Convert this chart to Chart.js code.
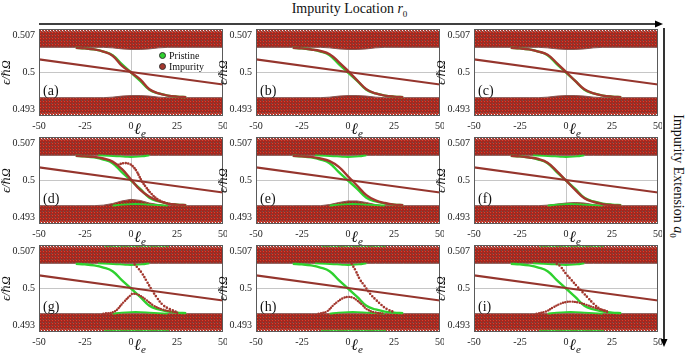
<!DOCTYPE html>
<html>
<head>
<meta charset="utf-8">
<script src="https://cdn.jsdelivr.net/npm/chart.js@4.4.1/dist/chart.umd.min.js"></script>
<style>
body { margin: 0; background: #fff; }
#fig { position: relative; width: 699px; height: 354px; overflow: hidden; font-family: 'Liberation Serif', 'DejaVu Serif', serif; color: #111; }
#fig canvas { position: absolute; }
#topTitle { position: absolute; left: 0; width: 699px; top: 1px; text-align: center; font-size: 14px; }
#sideTitle { position: absolute; left: 677px; top: 176px; font-size: 14px; white-space: nowrap; transform: translate(-50%, -50%) rotate(90deg); }
#legend { position: absolute; left: 159px; top: 50px; font-size: 10px; line-height: 11px; }
#legend div { white-space: nowrap; }
#legend span.dot { display: inline-block; width: 5px; height: 5px; border-radius: 50%; border: 1px solid #333; margin-right: 3px; vertical-align: 0px; }
svg { position: absolute; left: 0; top: 0; }
</style>
</head>
<body>
<div id="fig">
  <div id="topTitle">Impurity Location <i>r</i><sub style="font-size:9px">0</sub></div>
  <div id="sideTitle">Impurity Extension <i>a</i><sub style="font-size:9px">0</sub></div>
  <svg width="699" height="354">
    <line x1="39" y1="24" x2="657" y2="24" stroke="#000" stroke-width="1.6"/>
    <polygon points="663,24 655,20.5 655,27.5" fill="#000"/>
    <line x1="664" y1="28" x2="664" y2="340" stroke="#000" stroke-width="1.6"/>
    <polygon points="664,347 660.5,339 667.5,339" fill="#000"/>
  </svg>
</div>
<script>
// axes
const xTicks = [-50, -25, 0, 25, 50];
const yTicks = [0.493, 0.5, 0.507];
const yMin = 0.4917, yMax = 0.5083;
const panelLetters = ['(a)', '(b)', '(c)', '(d)', '(e)', '(f)', '(g)', '(h)', '(i)'];
const legendLabels = ['Pristine', 'Impurity'];

// straight mid-gap state (same in every panel)
const diagX = [-50, 50];
const diagY = [0.5025, 0.4977];

// kink state, pristine
const sX = [-30, -25, -20, -15, -10, -5, 0, 5, 10, 15, 20, 25, 30];
const pristineS = [0.5047, 0.5046, 0.5044, 0.5040, 0.5033, 0.5016, 0.5000, 0.4984, 0.4967, 0.4960, 0.4956, 0.4954, 0.4953];

// kink state, impurity (rows 1-2)
const impS_a = [0.5047, 0.5046, 0.5044, 0.5040, 0.5032, 0.5013, 0.5000, 0.4987, 0.4968, 0.4960, 0.4956, 0.4954, 0.4953];
const impS_b = [0.5047, 0.5046, 0.5044, 0.5041, 0.5035, 0.5020, 0.5003, 0.4985, 0.4968, 0.4960, 0.4956, 0.4954, 0.4953];
const impS_c = [0.5047, 0.5046, 0.5044, 0.5040, 0.5034, 0.5018, 0.5001, 0.4984, 0.4968, 0.4960, 0.4956, 0.4954, 0.4953];
const impS_d = [0.5047, 0.5046, 0.5045, 0.5042, 0.5036, 0.5022, 0.5002, 0.4982, 0.4969, 0.4961, 0.4956, 0.4954, 0.4953];
const impS_e = [0.5047, 0.5046, 0.5045, 0.5042, 0.5037, 0.5026, 0.5008, 0.4990, 0.4972, 0.4962, 0.4957, 0.4954, 0.4953];
const impS_f = [0.5047, 0.5046, 0.5044, 0.5041, 0.5034, 0.5018, 0.5000, 0.4982, 0.4966, 0.4959, 0.4955, 0.4953, 0.4952];

// extra impurity branch, steep
const steepX_d = [-7, -4, -1, 1, 3, 4.5, 6, 8, 11, 15, 20, 25];
const steepY_d = [0.5030, 0.5033, 0.5032, 0.5027, 0.5018, 0.5008, 0.4998, 0.4988, 0.4975, 0.4963, 0.4956, 0.4953];
const steepX_g = [2, 4, 6, 8.5, 11, 14, 17.5, 21, 25];
const steepY_g = [0.5046, 0.5038, 0.5029, 0.5014, 0.4999, 0.4983, 0.4968, 0.4961, 0.4955];
const steepX_h = [2, 4, 6.5, 9, 11, 13, 15.6, 18, 21, 25];
const steepY_h = [0.5047, 0.5035, 0.5017, 0.5005, 0.4995, 0.4986, 0.4977, 0.4969, 0.4961, 0.4955];
const steepX_i = [-5, -3, 0, 3, 6, 9, 12, 15, 19, 24];
const steepY_i = [0.5047, 0.5042, 0.5028, 0.5016, 0.5004, 0.4993, 0.4982, 0.4971, 0.4960, 0.4954];

// impurity hump above the lower band (row 3)
const humpX_g = [-15, -9, -4, 0, 1, 4, 8, 12, 17, 22, 26];
const humpY_g = [0.4952, 0.4956, 0.4974, 0.4988, 0.4990, 0.4988, 0.4979, 0.4968, 0.4960, 0.4956, 0.4953];
const humpX_h = [-16, -11.6, -8, -6, -3, 0, 3, 5, 8, 10, 14, 20];
const humpY_h = [0.4952, 0.4956, 0.4968, 0.4974, 0.4981, 0.4984, 0.4982, 0.4977, 0.4968, 0.4961, 0.4955, 0.4952];
const humpX_i = [-16, -11, -7, -3, 0, 3, 7, 11, 15, 19, 23];
const humpY_i = [0.4952, 0.4956, 0.4964, 0.4971, 0.4974, 0.4975, 0.4973, 0.4969, 0.4964, 0.4960, 0.4956];

// band edges
const edgeX = [-50, -30, -20, -15, -10, -5, 0, 5, 10, 15, 20, 30, 50];
const ubRow1 = [0.5048, 0.5048, 0.5048, 0.5048, 0.5047, 0.5045, 0.5044, 0.5044, 0.5045, 0.5047, 0.5048, 0.5048, 0.5048];
const lbRow1 = [0.4952, 0.4952, 0.4952, 0.4952, 0.4953, 0.4955, 0.4956, 0.4956, 0.4955, 0.4953, 0.4952, 0.4952, 0.4952];
const ubFlat = [0.5048, 0.5048, 0.5048, 0.5048, 0.5048, 0.5048, 0.5048, 0.5048, 0.5048, 0.5048, 0.5048, 0.5048, 0.5048];
const lbFlat = [0.4952, 0.4952, 0.4952, 0.4952, 0.4952, 0.4952, 0.4952, 0.4952, 0.4952, 0.4952, 0.4952, 0.4952, 0.4952];
const lb_d = [0.4952, 0.4952, 0.4952, 0.4953, 0.4956, 0.4961, 0.4964, 0.4962, 0.4957, 0.4954, 0.4952, 0.4952, 0.4952];
const lb_e = [0.4952, 0.4952, 0.4952, 0.4952, 0.4954, 0.4958, 0.4961, 0.4961, 0.4958, 0.4954, 0.4952, 0.4952, 0.4952];
const lb_f = [0.4952, 0.4952, 0.4952, 0.4952, 0.4953, 0.4955, 0.4957, 0.4958, 0.4957, 0.4954, 0.4952, 0.4952, 0.4952];
// pristine band edges that show through (rows 2-3)
const pUbX = [-18, -12, -6, -2, 2, 6, 10];
const pUb = [0.5048, 0.5047, 0.5046, 0.5045, 0.5045, 0.5046, 0.5048];
const pLbX = [-10, -5, 0, 5, 10, 15, 20];
const pLb = [0.4952, 0.4954, 0.4955, 0.4955, 0.4954, 0.4953, 0.4952];
// pristine outer band states peeking out (row 3)
const outerX = [-14, 20];
const outerTop = [0.5081, 0.5081];
const outerBottom = [0.4919, 0.4919];

// layout
const colLefts = [39, 256, 474];
const rowTops = [29, 137, 245];
const PLOT_W = 184, PLOT_H = 87, AXIS_W = 39, PAD_T = 4, PAD_R = 4, XAX_H = 26;

const fig = document.getElementById('fig');
const SERIF = "'Liberation Serif', 'DejaVu Serif', serif";

function pts(xs, ys) {
    return xs.map((x, i) => ({ x: x, y: ys[i] }));
}

function makePattern(w, h, paint) {
    const c = document.createElement('canvas');
    c.width = w; c.height = h;
    paint(c.getContext('2d'));
    return c.getContext('2d').createPattern(c, 'repeat');
}

const densePattern = makePattern(3, 3, g => {
    g.fillStyle = '#a3281f'; g.fillRect(0, 0, 3, 3);
    g.fillStyle = '#dc3f2c'; g.fillRect(1, 1, 1, 1);
    g.fillStyle = '#74504b'; g.fillRect(0, 0, 1, 1);
});
const sparsePattern = makePattern(3, 3, g => {
    g.fillStyle = '#b0362b'; g.fillRect(0, 0, 3, 3);
    g.fillStyle = '#e04a36'; g.fillRect(1, 1, 1, 1);
    g.fillStyle = '#f4eeee'; g.fillRect(2, 2, 1, 1);
    g.fillStyle = '#8c8080'; g.fillRect(0, 0, 1, 1);
});

const RED = '#a3372e', GREEN = '#2fd12f';

function band(data, fill) {
    return { data: data, fill: fill, backgroundColor: densePattern, borderColor: '#86544f', borderWidth: 1, pointRadius: 0, order: 10 };
}
function strip(y, fill) {
    return { data: pts(diagX, [y, y]), fill: fill, backgroundColor: sparsePattern, borderWidth: 0, pointRadius: 0, order: 9 };
}
function curve(data, color, width, order, dotted) {
    const ds = { data: data, borderColor: color, borderWidth: width, pointRadius: 0, fill: false, tension: 0.4, order: order };
    if (dotted) { ds.borderDash = [0, dotted]; ds.borderCapStyle = 'round'; }
    return ds;
}

// panel specs built from the arrays above
const panels = [
    { s: impS_a, ub: ubRow1, lb: lbRow1 },
    { s: impS_b, ub: ubRow1, lb: lbRow1 },
    { s: impS_c, ub: ubRow1, lb: lbRow1 },
    { s: impS_d, ub: ubFlat, lb: lb_d, sx: steepX_d, sy: steepY_d, pe: true },
    { s: impS_e, ub: ubFlat, lb: lb_e, pe: true },
    { s: impS_f, ub: ubFlat, lb: lb_f, pe: true },
    { ub: ubFlat, lb: lbFlat, sx: steepX_g, sy: steepY_g, hx: humpX_g, hy: humpY_g, pe: true, outer: true },
    { ub: ubFlat, lb: lbFlat, sx: steepX_h, sy: steepY_h, hx: humpX_h, hy: humpY_h, pe: true, outer: true },
    { ub: ubFlat, lb: lbFlat, sx: steepX_i, sy: steepY_i, hx: humpX_i, hy: humpY_i, pe: true, outer: true }
];

const panelDecor = {
    id: 'panelDecor',
    afterDraw(chart, args, opts) {
        const { ctx, chartArea: a } = chart;
        ctx.save();
        ctx.strokeStyle = '#5a5a5a';
        ctx.lineWidth = 1;
        ctx.strokeRect(a.left + 0.5, a.top + 0.5, a.right - a.left - 1, a.bottom - a.top - 1);
        ctx.fillStyle = '#111';
        ctx.textBaseline = 'alphabetic';
        ctx.font = '14px ' + SERIF;
        ctx.fillText(opts.letter, a.left + 4, a.top + 66);
        const cx = (a.left + a.right) / 2;
        ctx.font = 'italic 16px ' + SERIF;
        ctx.fillText('\u2113', cx + 3, a.bottom + 18);
        ctx.font = 'italic 11px ' + SERIF;
        ctx.fillText('e', cx + 10, a.bottom + 21);
        ctx.restore();
    }
};

function noPad(s) {
    s.paddingTop = 0; s.paddingBottom = 0; s.paddingLeft = 0; s.paddingRight = 0;
}

panels.forEach((p, idx) => {
    const col = idx % 3, row = Math.floor(idx / 3);
    const canvas = document.createElement('canvas');
    canvas.width = AXIS_W + PLOT_W + PAD_R;
    canvas.height = PAD_T + PLOT_H + XAX_H;
    canvas.style.left = (colLefts[col] - AXIS_W) + 'px';
    canvas.style.top = (rowTops[row] - PAD_T) + 'px';
    fig.appendChild(canvas);

    const datasets = [];
    datasets.push(curve(pts(diagX, diagY), '#95352d', 2.1, 0));
    if (p.s) datasets.push(curve(pts(sX, p.s), RED, 2.4, 1));
    if (p.sx) datasets.push(curve(pts(p.sx, p.sy), RED, 2.6, 1, row === 2 ? 3.2 : 2.6));
    if (p.hx) datasets.push(curve(pts(p.hx, p.hy), RED, 2.4, 1, 2.4));
    datasets.push(curve(pts(sX, pristineS), GREEN, 2.4, 4));
    if (p.pe) {
        datasets.push(curve(pts(pUbX, pUb), GREEN, 1.8, 5));
        datasets.push(curve(pts(pLbX, pLb), GREEN, 1.8, 5));
    }
    if (p.outer) {
        datasets.push(curve(pts(outerX, outerTop), GREEN, 2, 8, 2.5));
        datasets.push(curve(pts(outerX, outerBottom), GREEN, 2.4, 8, 2.5));
    }
    datasets.push(strip(0.5077, 'end'));
    datasets.push(strip(0.4923, 'start'));
    datasets.push(band(pts(edgeX, p.ub), 'end'));
    datasets.push(band(pts(edgeX, p.lb), 'start'));

    new Chart(canvas, {
        type: 'line',
        data: { datasets: datasets },
        options: {
            responsive: false,
            animation: false,
            devicePixelRatio: 1,
            layout: { padding: { top: PAD_T, right: PAD_R, left: 0, bottom: 0 } },
            scales: {
                x: {
                    type: 'linear', min: -50, max: 50,
                    afterBuildTicks: s => { s.ticks = xTicks.map(v => ({ value: v })); },
                    afterFit: s => { s.height = XAX_H; noPad(s); },
                    grid: { color: c => (c.tick && c.tick.value === 0 ? '#c6c6c6' : 'rgba(0,0,0,0)'), drawTicks: false },
                    border: { display: false },
                    ticks: { padding: 4, maxRotation: 0, color: '#222', font: { family: SERIF, size: 10 }, callback: v => String(v) }
                },
                y: {
                    type: 'linear', min: yMin, max: yMax,
                    afterBuildTicks: s => { s.ticks = yTicks.map(v => ({ value: v })); },
                    afterFit: s => { s.width = AXIS_W; noPad(s); },
                    grid: { color: c => (c.tick && Math.abs(c.tick.value - 0.5) < 1e-9 ? '#c6c6c6' : 'rgba(0,0,0,0)'), drawTicks: false },
                    border: { display: false },
                    ticks: { padding: 4, color: '#222', font: { family: SERIF, size: 10 }, callback: v => String(+v.toFixed(3)) },
                    title: { display: true, text: '\u03f5/\u210f\u03a9', color: '#111', padding: 0, font: { family: SERIF, size: 12, style: 'italic' } }
                }
            },
            plugins: {
                legend: { display: false },
                tooltip: { enabled: false },
                panelDecor: { letter: panelLetters[idx] }
            }
        },
        plugins: [panelDecor]
    });
});

// legend only in panel (a)
const legend = document.createElement('div');
legend.id = 'legend';
legend.innerHTML = '<div><span class="dot" style="background:' + GREEN + '"></span>' + legendLabels[0] + '</div>' +
    '<div><span class="dot" style="background:' + RED + '"></span>' + legendLabels[1] + '</div>';
fig.appendChild(legend);
</script>
</body>
</html>
